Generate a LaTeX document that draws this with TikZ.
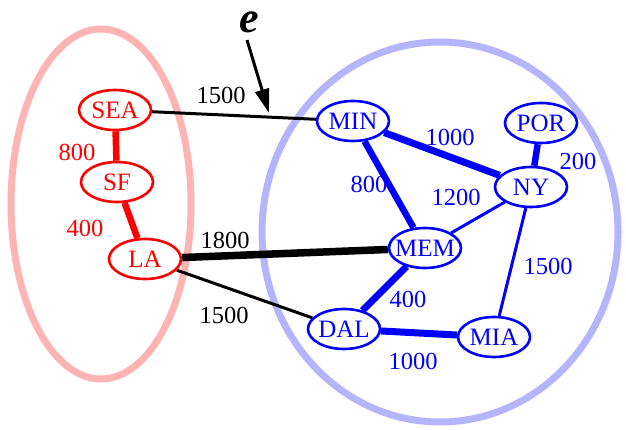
\documentclass[tikz,border=0pt]{standalone}
\usepackage{fontspec}
\setmainfont{Liberation Serif}
\usetikzlibrary{shapes.geometric,arrows.meta}
\definecolor{pinkc}{RGB}{255,180,180}
\definecolor{lavc}{RGB}{180,180,255}
\pgfdeclarelayer{clusterlayer}
\pgfdeclarelayer{edgelayer}
\pgfsetlayers{clusterlayer,edgelayer,main}
\tikzset{
  city/.style={ellipse, draw, line width=2.6pt, fill=white, inner sep=0pt,
    minimum width=72pt, minimum height=40pt, font=\fontsize{25}{27}\selectfont},
  west/.style={city, draw=red, text=red},
  east/.style={city, draw=blue, text=blue},
  wlab/.style={font=\fontsize{24.5}{26}\selectfont, inner sep=0pt},
  thin/.style={line width=3pt},
  thick/.style={line width=6.5pt},
  heavy/.style={line width=7.5pt},
  cluster/.style={line width=7pt},
}
\newcommand{\cn}[1]{\makebox[0pt][c]{#1}}
\begin{document}
\begin{tikzpicture}[x=1pt,y=-1pt]
\useasboundingbox (0,0) rectangle (626,430);
% nodes
\node[west] (SEA) at (115,110) {\cn{SEA}};
\node[west] (SF)  at (117,182) {\cn{SF}};
\node[west] (LA)  at (145,259) {\cn{LA}};
\node[east] (MIN) at (353,121) {\cn{MIN}};
\node[east] (POR) at (541,123) {\cn{POR}};
\node[east] (NY)  at (531,187) {\cn{NY}};
\node[east] (MEM) at (425,248) {\cn{MEM}};
\node[east] (DAL) at (344,329) {\cn{DAL}};
\node[east] (MIA) at (494,337) {\cn{MIA}};
% clusters
\begin{pgfonlayer}{clusterlayer}
\draw[pinkc, cluster] (101,204) ellipse [x radius=90, y radius=175];
\draw[lavc, cluster] (440,232) ellipse [x radius=178, y radius=190];
\end{pgfonlayer}
% edges
\begin{pgfonlayer}{edgelayer}
\draw[red, thick] (SEA) -- (SF);
\draw[red, thick] (SF) -- (LA);
\draw[black, thin] (SEA) -- (MIN);
\draw[black, heavy] (LA) -- (MEM);
\draw[black, thin] (LA) -- (DAL);
\draw[blue, line width=7pt] (MIN) -- (NY);
\draw[blue, thick] (MIN) -- (MEM);
\draw[blue, thick] (POR) -- (NY);
\draw[blue, thin] (NY) -- (MEM);
\draw[blue, thin] (NY) -- (MIA);
\draw[blue, line width=7pt] (MEM) -- (DAL);
\draw[blue, line width=7pt] (DAL) -- (MIA);
\end{pgfonlayer}
% weights
\node[wlab] (w1) at (221,95) {1500};
\node[wlab, red] (w2) at (77,152) {800};
\node[wlab, red] (w3) at (85,228) {400};
\node[wlab] (w4) at (225,240) {1800};
\node[wlab] (w5) at (224,315) {1500};
\node[wlab, blue] (w6) at (450,137) {1000};
\node[wlab, blue] (w7) at (578,161) {200};
\node[wlab, blue] (w8) at (369,184) {800};
\node[wlab, blue] (w9) at (456,197) {1200};
\node[wlab, blue] (w10) at (548,266) {1500};
\node[wlab, blue] (w11) at (408,299) {400};
\node[wlab, blue] (w12) at (413,361) {1000};
% e arrow
\node[inner sep=0pt, anchor=base, font=\fontsize{44}{44}\bfseries\itshape\selectfont] (e) at (249,33) {e};
\coordinate (estart) at (247,40);
\coordinate (etip) at (269,113);
\draw[line width=3pt, -{Triangle[length=24pt,width=14pt]}] (estart) -- (etip);
\end{tikzpicture}
\end{document}
